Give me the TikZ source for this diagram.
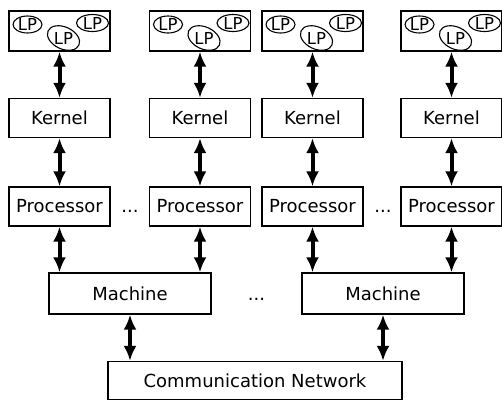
\documentclass[tikz,border=0pt]{standalone}
\usepackage{fontspec}
\setmainfont{DejaVu Sans}
\usetikzlibrary{arrows.meta,shapes.geometric}

\begin{document}
\begin{tikzpicture}[x=1pt, y=-1pt,
  every node/.style={font=\fontsize{18}{22}\selectfont},
  box/.style={draw, line width=1.3pt, minimum width=101pt, minimum height=39pt, inner sep=0pt},
  lp/.style={ellipse, draw, line width=1.1pt, inner sep=-3pt, minimum width=29pt, minimum height=17pt,
    font=\fontsize{16.5}{20}\selectfont},
  lpring/.style={line width=1.1pt},
  link/.style={{Latex[length=15pt,width=13pt]}-{Latex[length=15pt,width=13pt]}, line width=4pt}]
  \useasboundingbox (0,0) rectangle (502,400);

  % LP groups
  \node[box, minimum height=40pt] (lpa) at (59.5,31) {};
  \node[lp] (lpa1) at (27.5,24.5) {LP};
  \node[lp, draw=none] (lpa2) at (63.5,38) {LP};
  \draw[lpring, rotate around={-25:(lpa2)}] (lpa2) ellipse (17pt and 11pt);
  \node[lp, minimum width=32pt] (lpa3) at (92.5,23) {LP};

  \node[box, minimum height=40pt] (lpb) at (200,31) {};
  \node[lp] (lpb1) at (168,24.5) {LP};
  \node[lp, draw=none] (lpb2) at (204,38) {LP};
  \draw[lpring, rotate around={-25:(lpb2)}] (lpb2) ellipse (17pt and 11pt);
  \node[lp, minimum width=32pt] (lpb3) at (233,23) {LP};

  \node[box, minimum height=40pt] (lpc) at (312.5,31) {};
  \node[lp] (lpc1) at (280.5,24.5) {LP};
  \node[lp, draw=none] (lpc2) at (316.5,38) {LP};
  \draw[lpring, rotate around={-25:(lpc2)}] (lpc2) ellipse (17pt and 11pt);
  \node[lp, minimum width=32pt] (lpc3) at (345.5,23) {LP};

  \node[box, minimum height=40pt] (lpd) at (451.5,31) {};
  \node[lp] (lpd1) at (419.5,24.5) {LP};
  \node[lp, draw=none] (lpd2) at (455.5,38) {LP};
  \draw[lpring, rotate around={-25:(lpd2)}] (lpd2) ellipse (17pt and 11pt);
  \node[lp, minimum width=32pt] (lpd3) at (484.5,23) {LP};

  % kernels and processors
  \node[box] (ka) at (59.5,118) {Kernel};
  \node[box] (kb) at (200,118) {Kernel};
  \node[box] (kc) at (312.5,118) {Kernel};
  \node[box] (kd) at (451.5,118) {Kernel};

  \node[box] (pa) at (59.5,206.5) {Processor};
  \node[box] (pb) at (200,206.5) {Processor};
  \node[box] (pc) at (312.5,206.5) {Processor};
  \node[box] (pd) at (451.5,206.5) {Processor};
  \node[anchor=base] (gapa) at (130,0 |- pa.base) {...};
  \node[anchor=base] (gapb) at (383,0 |- pc.base) {...};

  % machines and network
  \node[box, minimum width=162pt, minimum height=41pt] (ma) at (130,293.5) {Machine};
  \node[box, minimum width=162pt, minimum height=41pt] (mb) at (383,293.5) {Machine};
  \node[anchor=base] (gapm) at (256.5,0 |- ma.base) {...};
  \node[box, minimum width=294pt, minimum height=38pt] (net) at (255,380.5) {Communication Network};

  \draw[link] (lpa) -- (ka);
  \draw[link] (lpb) -- (kb);
  \draw[link] (lpc) -- (kc);
  \draw[link] (lpd) -- (kd);
  \draw[link] (ka) -- (pa);
  \draw[link] (kb) -- (pb);
  \draw[link] (kc) -- (pc);
  \draw[link] (kd) -- (pd);
  \draw[link] (pa.south) -- (pa.south |- ma.north);
  \draw[link] (pb.south) -- (pb.south |- ma.north);
  \draw[link] (pc.south) -- (pc.south |- mb.north);
  \draw[link] (pd.south) -- (pd.south |- mb.north);
  \draw[link] (ma.south) -- (ma.south |- net.north);
  \draw[link] (mb.south) -- (mb.south |- net.north);
\end{tikzpicture}
\end{document}
